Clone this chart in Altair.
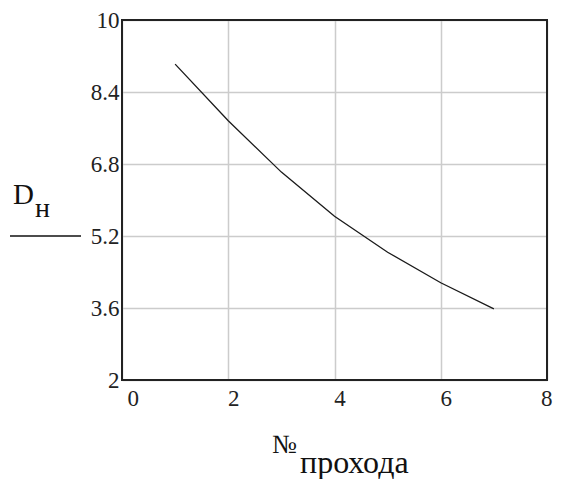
import altair as alt
import pandas as pd

# Data
pass_no = [1, 2, 3, 4, 5, 6, 7]
d_vals = [9.02, 7.76, 6.62, 5.64, 4.84, 4.16, 3.58]
x_ticks = [0, 2, 4, 6, 8]
y_ticks = [2, 3.6, 5.2, 6.8, 8.4, 10]

df = pd.DataFrame({"n": pass_no, "d": d_vals})

FONT = "Liberation Serif"
W, H = 425, 360
LBL = 23

base = alt.Chart(df)

line = base.mark_line(color="#1a1a1a", strokeWidth=1.3).encode(
    x=alt.X("n:Q",
            scale=alt.Scale(domain=[0, 8], nice=False, zero=False),
            axis=alt.Axis(values=x_ticks, format="d", title=None, grid=True,
                          domain=False, ticks=False, labelOffset=5,
                          labelPadding=7, labelFont=FONT, labelFontSize=LBL,
                          labelColor="#222", labelBaseline="top",
                          gridColor="#cccccc", gridWidth=1.5)),
    y=alt.Y("d:Q",
            scale=alt.Scale(domain=[2, 10], nice=False, zero=False),
            axis=alt.Axis(values=y_ticks, title=None, grid=True,
                          labelExpr="datum.value == round(datum.value) ? format(datum.value, 'd') : format(datum.value, '.1f')",
                          domain=False, ticks=False, labelPadding=3,
                          labelFont=FONT, labelFontSize=LBL, labelColor="#222",
                          gridColor="#cccccc", gridWidth=1.5)),
)

txt_df = pd.DataFrame({"a": [0]})
tb = alt.Chart(txt_df)

frame = tb.mark_rect(filled=False, stroke="#222", strokeWidth=2).encode(
    x=alt.value(0), x2=alt.value(W), y=alt.value(0), y2=alt.value(H))

d_main = tb.mark_text(text="D", font=FONT, fontSize=29, align="left",
                      baseline="alphabetic", color="#111").encode(
    x=alt.value(-109), y=alt.value(184))
d_sub = tb.mark_text(text="н", font=FONT, fontSize=28, align="left",
                     baseline="alphabetic", color="#111").encode(
    x=alt.value(-87), y=alt.value(197))
bar = tb.mark_rule(color="#111", strokeWidth=1.5).encode(
    x=alt.value(-112), x2=alt.value(-41), y=alt.value(216))

n_main = tb.mark_text(text="№", font=FONT, fontSize=26, align="left",
                      baseline="alphabetic", color="#111").encode(
    x=alt.value(150), y=alt.value(433))
n_sub = tb.mark_text(text="прохода", font=FONT, fontSize=32, align="left",
                     baseline="alphabetic", color="#111").encode(
    x=alt.value(178), y=alt.value(453))

chart = alt.layer(line, frame, d_main, d_sub, bar, n_main, n_sub).properties(
    width=W, height=H,
    autosize=alt.AutoSizeParams(type="none"),
    padding={"left": 114, "top": 12, "right": 10, "bottom": 100},
).configure_view(strokeWidth=0).configure(background="white")

chart.save("out.html", embed_options={"renderer": "svg", "actions": False})
